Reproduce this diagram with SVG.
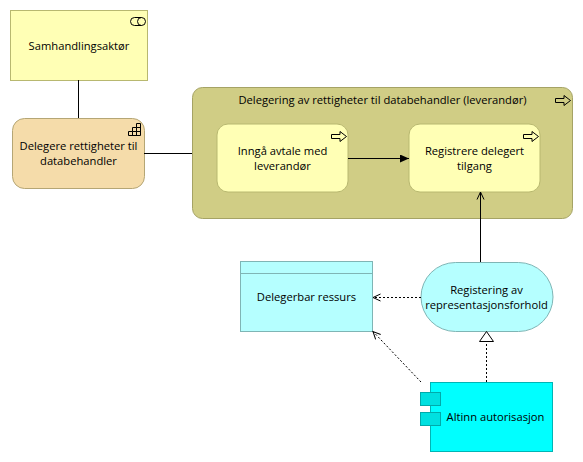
<svg xmlns="http://www.w3.org/2000/svg" width="583" height="462" viewBox="0 0 583 462">
<style>
text{font-family:"Open Sans","Noto Sans","DejaVu Sans",sans-serif;font-size:11.2px;fill:#000;text-anchor:middle}
.y{fill:#ffffb5;stroke:#b8b870}
.g{fill:#d0cd85;stroke:#a5a365}
.c{fill:#b5ffff;stroke:#7fb5b5}
.i{fill:none;stroke:#000;stroke-width:1}
.l{fill:none;stroke:#000;stroke-width:1}
.d{fill:none;stroke:#000;stroke-width:1;stroke-dasharray:2 2}
</style>
<defs>
<path id="pa" d="M0.500 3.500H9V0.500L15.500 5.500L9 10.500V7.500H0.500Z" class="i"/>
<marker id="fill" markerWidth="10" markerHeight="8" refX="9" refY="4" orient="auto" markerUnits="userSpaceOnUse"><path d="M0 0L9 4L0 8Z" fill="#000"/></marker>
<marker id="open" markerWidth="10" markerHeight="10" refX="8.500" refY="5" orient="auto" markerUnits="userSpaceOnUse"><path d="M1 1.500L8.500 5L1 8.500" fill="none" stroke="#000"/></marker>
</defs>
<g id="samhandlingsaktor">
<rect class="y" x="10.500" y="10.500" width="137" height="70"/>
<rect class="i" x="130.500" y="17.500" width="15" height="8" rx="4"/><path class="i" d="M141.500 17.500A4 4 0 0 0 141.500 25.500"/>
<text x="79" y="50">Samhandlingsaktør</text>
</g>
<g id="delegere">
<rect x="12.500" y="118.500" width="132" height="70" rx="12" fill="#f5dcaa" stroke="#b5a675"/>
<path class="i" d="M128.500 135.500H140.500V123.500H136.500V127.500H132.500V131.500H128.500ZM132.500 131.500V135.500M136.500 127.500V135.500M132.500 131.500H140.500M136.500 127.500H140.500"/>
<text x="78.500" y="150">Delegere rettigheter til</text>
<text x="78.500" y="165">databehandler</text>
</g>
<g id="delegering">
<rect class="g" x="192.500" y="87.500" width="380" height="131" rx="10"/>
<use href="#pa" x="555" y="95"/>
<text x="382.500" y="104">Delegering av rettigheter til databehandler (leverandør)</text>
</g>
<g id="inngaa">
<rect class="y" x="217" y="124" width="131" height="68" rx="11"/>
<use href="#pa" x="331" y="131"/>
<text x="282.500" y="155">Inngå avtale med</text>
<text x="282.500" y="170">leverandør</text>
</g>
<g id="registrere">
<rect class="y" x="409" y="124" width="131" height="68" rx="11"/>
<use href="#pa" x="523" y="131"/>
<text x="474.500" y="155">Registrere delegert</text>
<text x="474.500" y="170">tilgang</text>
</g>
<g id="ressurs">
<rect class="c" x="240.500" y="261.500" width="132" height="70"/>
<path class="c" d="M240.500 273.500H372.500"/>
<text x="306.500" y="301">Delegerbar ressurs</text>
</g>
<g id="registering">
<rect class="c" x="421" y="262.500" width="132" height="69" rx="34.500"/>
<text x="486.500" y="294">Registering av</text>
<text x="486.500" y="309">representasjonsforhold</text>
</g>
<g id="altinn">
<rect x="430.500" y="382.500" width="122" height="69" fill="#0ff" stroke="#00b5b5"/>
<rect x="420.500" y="392.500" width="20" height="13" fill="#00e0e0" stroke="#00aaaa"/>
<rect x="420.500" y="412.500" width="20" height="13" fill="#00e0e0" stroke="#00aaaa"/>
<text x="495.500" y="421">Altinn autorisasjon</text>
</g>
<g id="connectors">
<path class="l" d="M78.500 80V118"/>
<path class="l" d="M144 153.500H192"/>
<path class="l" d="M348 158.500H409" marker-end="url(#fill)"/>
<path class="l" d="M480.500 262V192" marker-end="url(#open)"/>
<path class="d" d="M421 297.500H373" marker-end="url(#open)"/>
<path class="d" d="M421 382L373 331.500" marker-end="url(#open)"/>
<path class="d" d="M486.500 382V341"/>
<path d="M486.500 331.500L493.500 341.500H479.500Z" fill="#fff" stroke="#000"/>
</g>
</svg>
